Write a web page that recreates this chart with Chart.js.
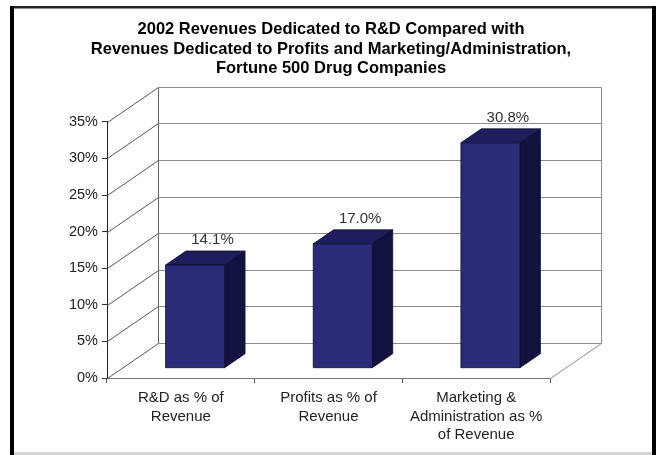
<!DOCTYPE html>
<html>
<head>
<meta charset="utf-8">
<script src="https://cdn.jsdelivr.net/npm/chart.js@4.4.1/dist/chart.umd.min.js"></script>
<style>
  html, body { margin: 0; padding: 0; background: #fff; }
</style>
</head>
<body>
<canvas id="chart" width="657" height="455"></canvas>
<script>
// data
const titleLines = [
    '2002 Revenues Dedicated to R&D Compared with',
    'Revenues Dedicated to Profits and Marketing/Administration,',
    'Fortune 500 Drug Companies'
];
const categories = [
    ['R&D as % of', 'Revenue'],
    ['Profits as % of', 'Revenue'],
    ['Marketing &', 'Administration as %', 'of Revenue']
];
const shares = [14.1, 17.0, 30.8];
const yMin = 0, yMax = 35, yStep = 5;

const FONT = '"Liberation Sans", Arial, sans-serif';
// fake 3d: offset of the back wall and where the bars sit in depth
const DX = 51, DY = -35;
const BAR_FRONT = 0.28, BAR_BACK = 0.68;

function line(ctx, x1, y1, x2, y2) {
    ctx.beginPath();
    ctx.moveTo(x1, y1);
    ctx.lineTo(x2, y2);
    ctx.stroke();
}

function poly(ctx, pts, fill) {
    ctx.beginPath();
    ctx.moveTo(pts[0][0], pts[0][1]);
    pts.slice(1).forEach(p => ctx.lineTo(p[0], p[1]));
    ctx.closePath();
    ctx.fillStyle = fill;
    ctx.fill();
    ctx.stroke();
}

const box3d = {
    id: 'box3d',
    beforeDraw(chart) {
        const ctx = chart.ctx;
        ctx.save();
        ctx.fillStyle = '#fff';
        ctx.fillRect(0, 0, chart.width, chart.height);
        // frame around the picture
        ctx.fillStyle = '#d4d4d4';
        ctx.fillRect(12, 452, 642, 3);
        ctx.fillStyle = '#222';
        ctx.fillRect(10, 6, 646, 2.5);
        ctx.fillStyle = '#000';
        ctx.fillRect(10, 6, 4, 449);
        ctx.fillRect(652, 6, 4, 449);
        ctx.restore();
    },
    beforeDatasetsDraw(chart) {
        const { ctx, chartArea: a, scales: { y } } = chart;
        ctx.save();
        ctx.lineWidth = 1;
        const L = Math.round(a.left) + 0.5, R = Math.round(a.right) + 0.5;
        y.ticks.forEach(t => {
            const py = Math.round(y.getPixelForValue(t.value)) + 0.5;
            ctx.strokeStyle = '#8c8c8c';
            line(ctx, L + DX, py + DY, R + DX, py + DY);
            ctx.strokeStyle = '#555';
            line(ctx, L, py, L + DX, py + DY);
        });
        const top = Math.round(a.top) + 0.5, bot = Math.round(a.bottom) + 0.5;
        ctx.strokeStyle = '#666';
        line(ctx, L + DX, top + DY, L + DX, bot + DY);
        ctx.strokeStyle = '#8c8c8c';
        line(ctx, R + DX, top + DY, R + DX, bot + DY);
        line(ctx, R, bot, R + DX, bot + DY);
        ctx.restore();
    },
    afterDatasetsDraw(chart) {
        const ctx = chart.ctx;
        const meta = chart.getDatasetMeta(0);
        ctx.save();
        ctx.lineWidth = 0.8;
        ctx.strokeStyle = '#0b0b2e';
        meta.data.forEach((bar, i) => {
            const half = bar.width / 2;
            const fx = DX * BAR_FRONT, fy = DY * BAR_FRONT;
            const dx = DX * (BAR_BACK - BAR_FRONT), dy = DY * (BAR_BACK - BAR_FRONT);
            const L = bar.x - half + fx, R = bar.x + half + fx;
            const T = bar.y + fy, B = bar.base + fy;
            poly(ctx, [[R, T], [R + dx, T + dy], [R + dx, B + dy], [R, B]], '#121241');
            poly(ctx, [[L, T], [L + dx, T + dy], [R + dx, T + dy], [R, T]], '#1f1e5d');
            poly(ctx, [[L, T], [R, T], [R, B], [L, B]], '#2c2b79');
            ctx.fillStyle = '#333';
            ctx.font = '15px ' + FONT;
            ctx.textAlign = 'center';
            ctx.textBaseline = 'alphabetic';
            ctx.fillText(shares[i].toFixed(1) + '%', bar.x + DX * BAR_BACK - 3, T + dy - 7);
        });
        ctx.restore();
    }
};

new Chart(document.getElementById('chart'), {
    type: 'bar',
    data: {
        labels: categories,
        datasets: [{
            data: shares,
            backgroundColor: 'rgba(0,0,0,0)',
            borderWidth: 0,
            barPercentage: 0.4,
            categoryPercentage: 1,
        }]
    },
    options: {
        responsive: false,
        animation: false,
        devicePixelRatio: 1,
        layout: { padding: { top: 20, left: 5, right: 0, bottom: 0 } },
        plugins: {
            legend: { display: false },
            tooltip: { enabled: false },
            title: {
                display: true,
                text: titleLines,
                color: '#000',
                font: { family: FONT, size: 16.5, weight: 'bold', lineHeight: 1.17 },
                padding: { top: 0, bottom: 44 },
            },
        },
        scales: {
            x: {
                grid: { offset: true, drawOnChartArea: false, tickLength: 5, color: '#555' },
                border: { display: true, color: '#777' },
                ticks: {
                    font: { family: FONT, size: 15, lineHeight: 1.23 },
                    color: '#222',
                    padding: 6,
                    maxRotation: 0,
                    autoSkip: false,
                },
                afterFit: (s) => { s.height = 77; },
            },
            y: {
                min: yMin,
                max: yMax,
                grid: { drawOnChartArea: false, tickLength: 5, color: '#333' },
                border: { display: true, color: '#222' },
                ticks: {
                    stepSize: yStep,
                    callback: (v) => v + '%',
                    font: { family: FONT, size: 14.5 },
                    color: '#222',
                    padding: 4,
                },
                afterFit: (s) => { s.width = 102; },
            },
            // empty right axis, only reserves room for the 3d depth
            spacer: {
                position: 'right',
                grid: { display: false },
                border: { display: false },
                ticks: { display: false },
                afterFit: (s) => { s.width = 107; },
            }
        }
    },
    plugins: [box3d]
});
</script>
</body>
</html>
